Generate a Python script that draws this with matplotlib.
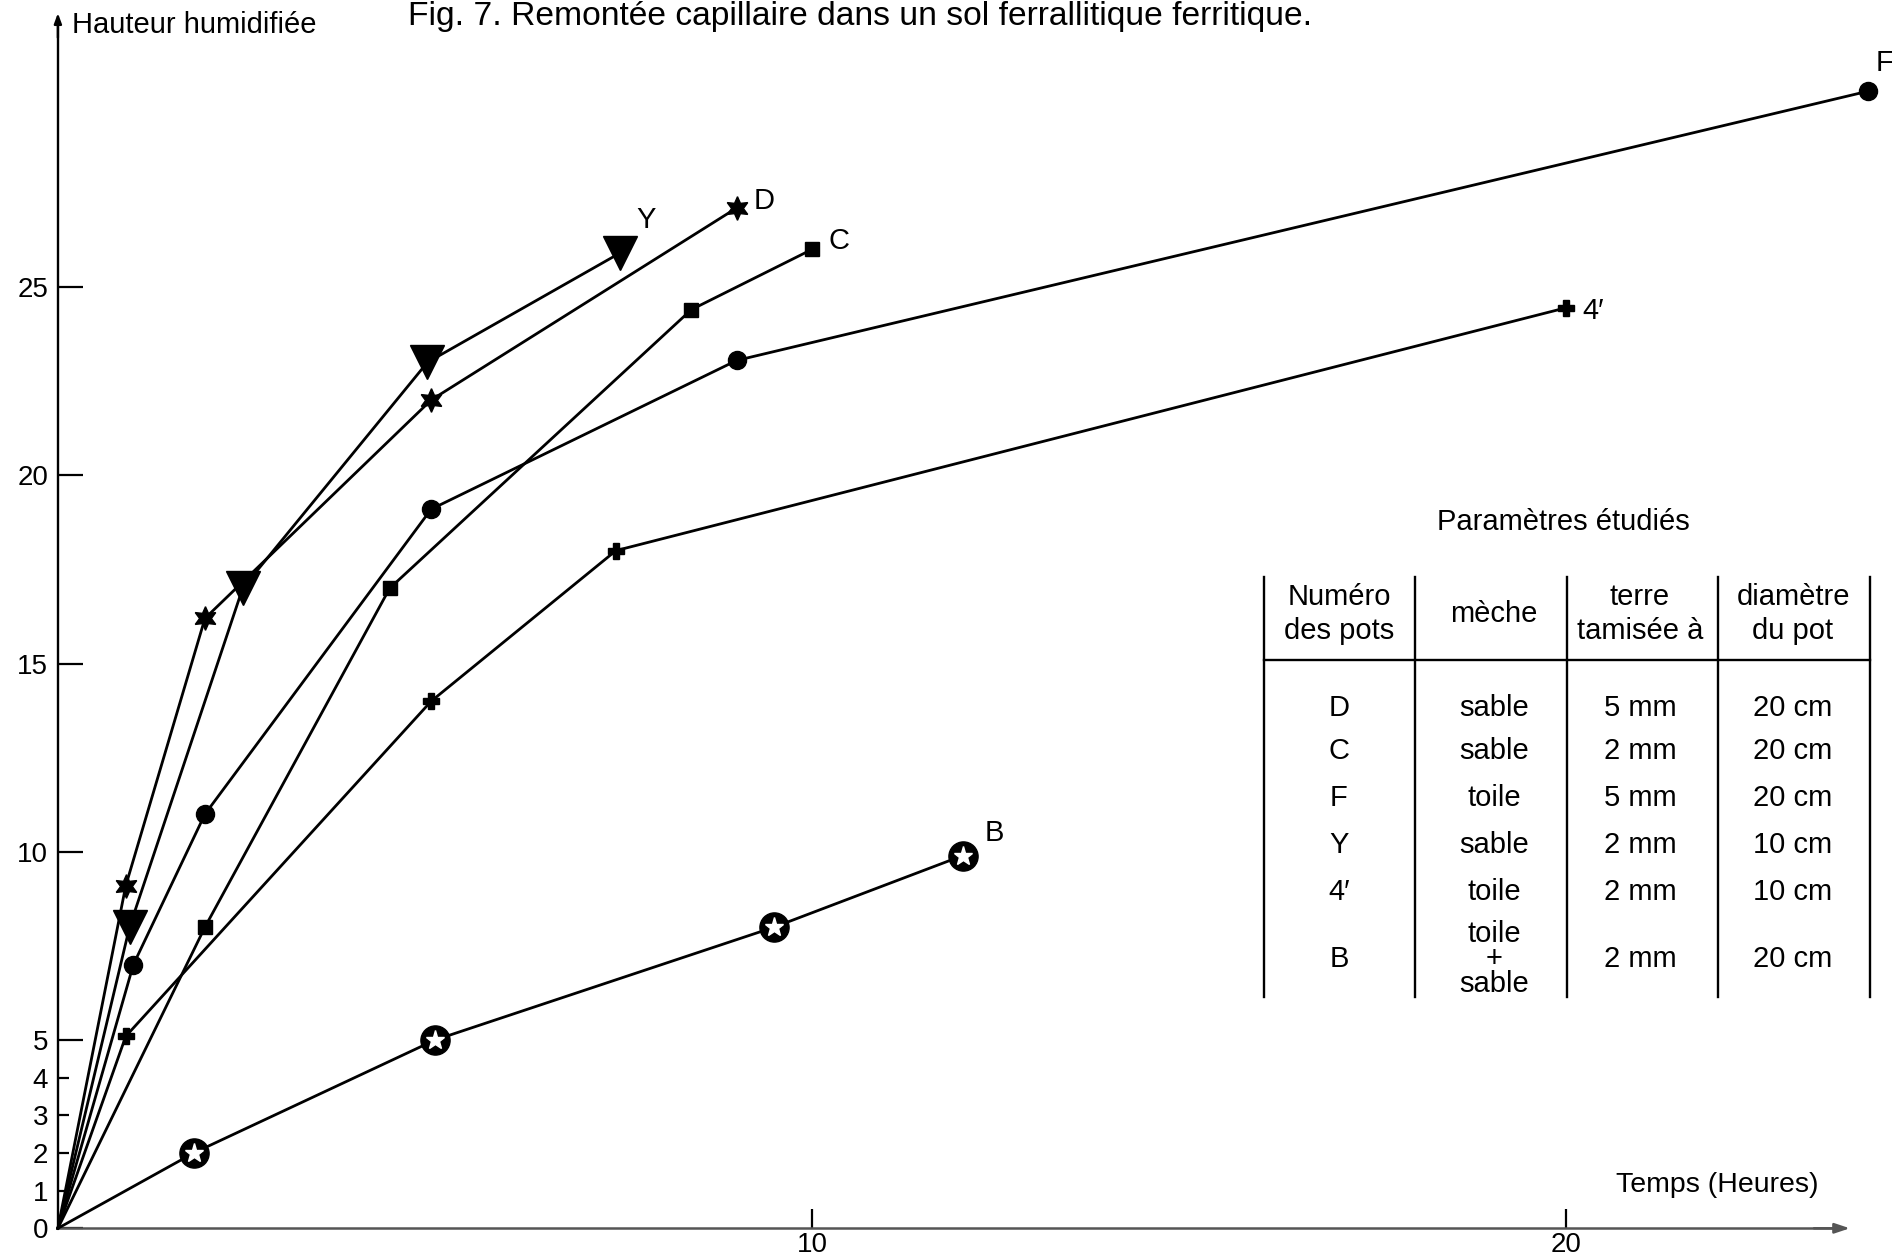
import matplotlib
matplotlib.use("Agg")
import matplotlib.pyplot as plt
from matplotlib.ticker import FixedLocator

plt.rcParams['font.family'] = ['Liberation Sans', 'DejaVu Sans']

# ---------------- data ----------------
D_x = [0, 0.9, 1.95, 4.95, 9.0]
D_y = [0, 9.1, 16.2, 22.0, 27.1]
Y_x = [0, 0.95, 2.45, 4.9, 7.45]
Y_y = [0, 8.0, 17.0, 23.0, 25.9]
C_x = [0, 1.95, 4.4, 8.4, 10.0]
C_y = [0, 8.0, 17.0, 24.4, 26.0]
F_x = [0, 1.0, 1.95, 4.95, 9.0, 24.0]
F_y = [0, 7.0, 11.0, 19.1, 23.05, 30.2]
P4_x = [0, 0.9, 4.95, 7.4, 20.0]
P4_y = [0, 5.1, 14.0, 18.0, 24.45]
B_x = [0, 1.8, 5.0, 9.5, 12.0]
B_y = [0, 2.0, 5.0, 8.0, 9.9]

y_major = [0, 5, 10, 15, 20, 25]
y_minor = [1, 2, 3, 4]
x_major = [10, 20]

title = "Fig. 7. Remontée capillaire dans un sol ferrallitique ferritique."
ylabel = "Hauteur humidifiée"
xlabel = "Temps (Heures)"

table_title = "Paramètres étudiés"
table_header = ["Numéro\ndes pots", "mèche", "terre\ntamisée à", "diamètre\ndu pot"]
tab_pots = ["D", "C", "F", "Y", "4\u2032", "B"]
tab_meche = ["sable", "sable", "toile", "sable", "toile", "toile\n+\nsable"]
tab_terre = ["5 mm", "2 mm", "5 mm", "2 mm", "2 mm", "2 mm"]
tab_diam = ["20 cm", "20 cm", "20 cm", "10 cm", "10 cm", "20 cm"]

# ---------------- figure ----------------
W, H = 1892, 1260
fig = plt.figure(figsize=(W / 100, H / 100), dpi=100)
ax = fig.add_axes([0, 0, 1, 1])

ox, oy = 57.9, 1228.3          # origin pixel
px_per_h, px_per_u = 75.41, 37.65
ax.set_xlim(-ox / px_per_h, (W - ox) / px_per_h)
ax.set_ylim(-(H - oy) / px_per_u, oy / px_per_u)

x_end, y_end = 23.55, 32.05

for s in ['top', 'right']:
    ax.spines[s].set_visible(False)
ax.spines['left'].set_position(('data', 0))
ax.spines['bottom'].set_position(('data', 0))
ax.spines['left'].set_bounds(0, y_end)
ax.spines['bottom'].set_bounds(0, x_end)
ax.spines['left'].set_linewidth(1.7)
ax.spines['bottom'].set_linewidth(1.8)
ax.spines['bottom'].set_color('#555555')
ax.patch.set_visible(False)

ax.yaxis.set_major_locator(FixedLocator(y_major))
ax.yaxis.set_minor_locator(FixedLocator(y_minor))
ax.set_yticklabels([str(v) for v in y_major])
ax.set_yticklabels([str(v) for v in y_minor], minor=True)
ax.xaxis.set_major_locator(FixedLocator(x_major))
ax.set_xticklabels([str(v) for v in x_major])
ax.tick_params(axis='y', which='major', direction='in', length=18, width=1.6,
               labelsize=20, pad=7)
ax.tick_params(axis='y', which='minor', direction='in', length=8, width=1.6,
               labelsize=20, pad=7)
ax.tick_params(axis='x', which='major', direction='in', length=14, width=1.6,
               labelsize=20, pad=3)

# arrow heads
ax.annotate('', xy=(x_end + 0.25, 0), xytext=(x_end - 0.3, 0),
            arrowprops=dict(arrowstyle='-|>,head_length=0.9,head_width=0.3',
                            color='#555555', lw=1.8))
ax.annotate('', xy=(0, y_end + 0.3), xytext=(0, y_end - 0.5),
            arrowprops=dict(arrowstyle='-|>,head_length=0.6,head_width=0.22',
                            color='black', lw=1.7))

lw = 2.0
skip0 = slice(1, None)
ax.plot(D_x, D_y, color='black', lw=lw, marker=(6, 1, 0), ms=17, markevery=skip0, zorder=3)
ax.plot(Y_x, Y_y, color='black', lw=lw, marker='v', ms=24, markevery=skip0, zorder=3)
ax.plot(C_x, C_y, color='black', lw=lw, marker='s', ms=10, markevery=skip0, zorder=3)
ax.plot(F_x, F_y, color='black', lw=lw, marker='o', ms=13, markevery=skip0, zorder=3)
ax.plot(P4_x, P4_y, color='black', lw=lw, marker='P', ms=11, markevery=skip0, zorder=3)
ax.plot(B_x, B_y, color='black', lw=lw, marker='o', ms=21, markevery=skip0, zorder=3)
ax.plot(B_x, B_y, ls='none', marker='*', ms=14, color='white',
        markeredgecolor='white', markevery=skip0, zorder=4)

lab_kw = dict(fontsize=21, ha='left', va='center')
ax.annotate("Y", (Y_x[-1], Y_y[-1]), xytext=(12, 24), textcoords='offset points', **lab_kw)
ax.annotate("D", (D_x[-1], D_y[-1]), xytext=(12, 5), textcoords='offset points', **lab_kw)
ax.annotate("C", (C_x[-1], C_y[-1]), xytext=(12, 6), textcoords='offset points', **lab_kw)
ax.annotate("F", (F_x[-1], F_y[-1]), xytext=(6, 20), textcoords='offset points', **lab_kw)
ax.annotate("4\u2032", (P4_x[-1], P4_y[-1]), xytext=(12, -2), textcoords='offset points', **lab_kw)
ax.annotate("B", (B_x[-1], B_y[-1]), xytext=(16, 16), textcoords='offset points', **lab_kw)


def fx(px):
    return px / W


def fy(py):
    return 1 - py / H


fig.text(fx(408), fy(17), title, fontsize=24.2, ha='left', va='center')
fig.text(fx(72), fy(25), ylabel, fontsize=21, ha='left', va='center')
fig.text(fx(1818), fy(1185), xlabel, fontsize=20.5, ha='right', va='center')

# ---------------- table ----------------
tfs = 21
fig.text(fx(1563), fy(522), table_title, fontsize=tfs, ha='center', va='center')
col_lines = [1264, 1415, 1567, 1718, 1870]
for c in col_lines:
    fig.add_artist(plt.Line2D([fx(c), fx(c)], [fy(577), fy(997)], color='black',
                              lw=1.7, transform=fig.transFigure))
fig.add_artist(plt.Line2D([fx(col_lines[0]), fx(col_lines[-1])], [fy(660), fy(660)],
                          color='black', lw=1.7, transform=fig.transFigure))
col_cx = [1339, 1494, 1640, 1793]
for cx, h in zip(col_cx, table_header):
    fig.text(fx(cx), fy(614), h, fontsize=tfs, ha='center', va='center',
             linespacing=1.3)
row_y = [708, 751, 798, 845, 892, 959]
for i, ry in enumerate(row_y):
    vals = [tab_pots[i], tab_meche[i], tab_terre[i], tab_diam[i]]
    for cx, v in zip(col_cx, vals):
        fig.text(fx(cx), fy(ry), v, fontsize=tfs, ha='center', va='center',
                 linespacing=0.88)

fig.savefig("out.png", dpi=100)
